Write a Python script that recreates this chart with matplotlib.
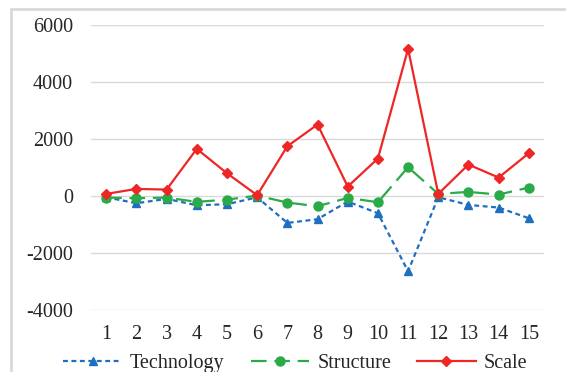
import matplotlib
matplotlib.use("Agg")
import matplotlib.pyplot as plt
from matplotlib.patches import Rectangle

periods = list(range(1, 16))
technology = [-50, -257, -105, -328, -293, -50, -948, -819, -199, -608, -2644, -47, -316, -410, -784]
structure = [-60, -80, -60, -210, -130, 10, -234, -363, -70, -222, 1006, 70, 140, 47, 292]
scale = [70, 245, 222, 1650, 795, 25, 1743, 2504, 328, 1310, 5160, 70, 1100, 643, 1498]

plt.rcParams['font.family'] = ['Liberation Serif', 'DejaVu Serif']
plt.rcParams['axes.unicode_minus'] = False

fig = plt.figure(figsize=(5.66, 3.72), dpi=100)
ax = fig.add_axes([0.161, 0.167, 0.8, 0.766])

ax.plot(periods, technology, color='#1F6FC0', lw=1.6, ls=(0, (2.2, 1.6)),
        marker='^', ms=6, label='Technology')
ax.plot(periods, structure, color='#2BAA48', lw=1.6, ls=(0, (7, 3.5)),
        marker='o', ms=6.5, label='Structure')
ax.plot(periods, scale, color='#EE2626', lw=1.6, ls='-',
        marker='D', ms=5, label='Scale')

ax.set_xlim(0.5, 15.5)
ax.set_ylim(-4000, 6000)
ax.set_yticks(range(-4000, 6001, 2000))
ax.set_xticks(periods)
ax.grid(axis='y', color='#D9D9D9', lw=1)
ax.set_axisbelow(True)
for s in ax.spines.values():
    s.set_visible(False)
ax.tick_params(length=0, labelsize=14.5, colors='#262626')
ax.tick_params(axis='x', pad=11)
ax.tick_params(axis='y', pad=13)

ax.legend(loc='upper center', bbox_to_anchor=(0.451, -0.12), ncol=3, frameon=False,
          fontsize=14.5, handlelength=2.9, columnspacing=1.3, handletextpad=0.4,
          borderpad=0, labelcolor='#262626')

fig.patches.append(Rectangle((0.02, -0.1), 1.2, 1.075, transform=fig.transFigure,
                             fill=False, ec='#D9D9D9', lw=2))

fig.savefig('out.png', dpi=100)
